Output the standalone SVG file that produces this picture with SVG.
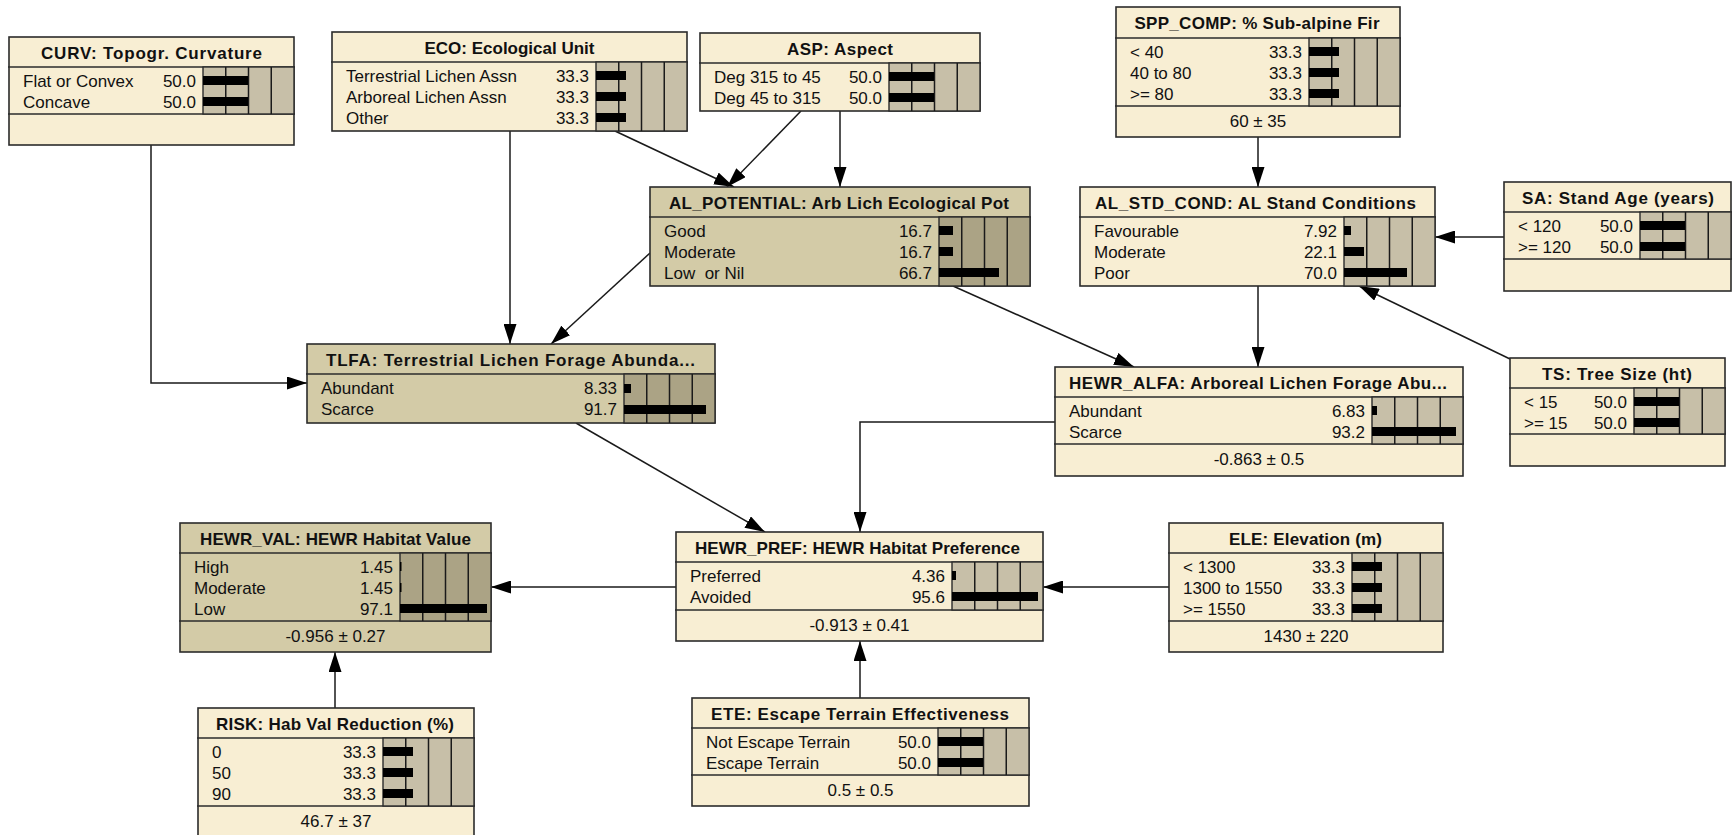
<svg xmlns="http://www.w3.org/2000/svg" width="1732" height="835" viewBox="0 0 1732 835">
<defs>
<marker id="arr" viewBox="0 0 20 13" refX="20" refY="6.5" markerWidth="20" markerHeight="13" markerUnits="userSpaceOnUse" orient="auto">
<path d="M0,0 L20,6.5 L0,13 z" fill="#000"/>
</marker>
<style>
.n{fill:#f8eed3;stroke:#2b2b2b;stroke-width:1.6}
.d{fill:#d3cba7;stroke:#2b2b2b;stroke-width:1.6}
.bb{fill:#c7bfa8;stroke:#2b2b2b;stroke-width:1.4}
.bd{fill:#aba385;stroke:#2b2b2b;stroke-width:1.4}
.sep{stroke:#2b2b2b;stroke-width:1.5}
.g{stroke:#1a1a1a;stroke-width:1.5}
.bar{fill:#000}
text{font-family:"Liberation Sans",Arial,sans-serif;font-size:17px;fill:#111}
.t{font-weight:bold;text-anchor:middle}
.v{text-anchor:end}
.f{text-anchor:middle}
.c{fill:none;stroke:#1a1a1a;stroke-width:1.5;marker-end:url(#arr)}
</style>
</defs>
<rect width="1732" height="835" fill="#fff"/>

<g id="connectors">
<polyline class="c" points="151,145 151,383 307,383"/>
<line class="c" x1="510" y1="131" x2="510" y2="344"/>
<line class="c" x1="650" y1="253" x2="551" y2="344"/>
<line class="c" x1="615" y1="131" x2="734" y2="187"/>
<line class="c" x1="801" y1="111" x2="727" y2="187"/>
<line class="c" x1="840" y1="111" x2="840" y2="187"/>
<line class="c" x1="1258" y1="137" x2="1258" y2="187"/>
<line class="c" x1="1504" y1="237" x2="1435" y2="237"/>
<line class="c" x1="1510" y1="359" x2="1359" y2="286"/>
<line class="c" x1="1258" y1="286" x2="1258" y2="367"/>
<line class="c" x1="953" y1="286" x2="1134" y2="367"/>
<polyline class="c" points="1055,422 860,422 860,532"/>
<line class="c" x1="576" y1="423" x2="765" y2="532"/>
<line class="c" x1="676" y1="587" x2="491" y2="587"/>
<line class="c" x1="1169" y1="587" x2="1043" y2="587"/>
<line class="c" x1="860" y1="698" x2="860" y2="641"/>
<line class="c" x1="335" y1="708" x2="335" y2="652"/>
</g>

<g id="CURV">
<rect class="n" x="9" y="37" width="285" height="108"/>
<line class="sep" x1="8" y1="67" x2="295" y2="67"/>
<line class="sep" x1="8" y1="114" x2="295" y2="114"/>
<rect class="bb" x="203" y="67" width="91" height="47"/>
<line class="g" x1="225.75" y1="67" x2="225.75" y2="114"/>
<line class="g" x1="248.5" y1="67" x2="248.5" y2="114"/>
<line class="g" x1="271.25" y1="67" x2="271.25" y2="114"/>
<rect class="bar" x="203" y="76" width="45" height="9"/>
<rect class="bar" x="203" y="97" width="45" height="9"/>
<text class="t" x="151.5" y="59" textLength="221" lengthAdjust="spacing">CURV: Topogr. Curvature</text>
<text x="23" y="86.5">Flat or Convex</text>
<text class="v" x="196" y="86.5">50.0</text>
<text x="23" y="107.5">Concave</text>
<text class="v" x="196" y="107.5">50.0</text>
</g>

<g id="ECO">
<rect class="n" x="332" y="32" width="355" height="99"/>
<line class="sep" x1="331" y1="62" x2="688" y2="62"/>
<rect class="bb" x="596" y="62" width="91" height="69"/>
<line class="g" x1="618.75" y1="62" x2="618.75" y2="131"/>
<line class="g" x1="641.5" y1="62" x2="641.5" y2="131"/>
<line class="g" x1="664.25" y1="62" x2="664.25" y2="131"/>
<rect class="bar" x="596" y="71" width="30" height="9"/>
<rect class="bar" x="596" y="92" width="30" height="9"/>
<rect class="bar" x="596" y="113" width="30" height="9"/>
<text class="t" x="509.5" y="54" textLength="170" lengthAdjust="spacing">ECO: Ecological Unit</text>
<text x="346" y="81.5">Terrestrial Lichen Assn</text>
<text class="v" x="589" y="81.5">33.3</text>
<text x="346" y="102.5">Arboreal Lichen Assn</text>
<text class="v" x="589" y="102.5">33.3</text>
<text x="346" y="123.5">Other</text>
<text class="v" x="589" y="123.5">33.3</text>
</g>

<g id="ASP">
<rect class="n" x="700" y="33" width="280" height="78"/>
<line class="sep" x1="699" y1="63" x2="981" y2="63"/>
<rect class="bb" x="889" y="63" width="91" height="48"/>
<line class="g" x1="911.75" y1="63" x2="911.75" y2="111"/>
<line class="g" x1="934.5" y1="63" x2="934.5" y2="111"/>
<line class="g" x1="957.25" y1="63" x2="957.25" y2="111"/>
<rect class="bar" x="889" y="72" width="45" height="9"/>
<rect class="bar" x="889" y="93" width="45" height="9"/>
<text class="t" x="840" y="55" textLength="106" lengthAdjust="spacing">ASP: Aspect</text>
<text x="714" y="82.5">Deg 315 to 45</text>
<text class="v" x="882" y="82.5">50.0</text>
<text x="714" y="103.5">Deg 45 to 315</text>
<text class="v" x="882" y="103.5">50.0</text>
</g>

<g id="SPP_COMP">
<rect class="n" x="1116" y="7" width="284" height="130"/>
<line class="sep" x1="1115" y1="38" x2="1401" y2="38"/>
<line class="sep" x1="1115" y1="106" x2="1401" y2="106"/>
<rect class="bb" x="1309" y="38" width="91" height="68"/>
<line class="g" x1="1331.75" y1="38" x2="1331.75" y2="106"/>
<line class="g" x1="1354.5" y1="38" x2="1354.5" y2="106"/>
<line class="g" x1="1377.25" y1="38" x2="1377.25" y2="106"/>
<rect class="bar" x="1309" y="47" width="30" height="9"/>
<rect class="bar" x="1309" y="68" width="30" height="9"/>
<rect class="bar" x="1309" y="89" width="30" height="9"/>
<text class="t" x="1257" y="29" textLength="245" lengthAdjust="spacing">SPP_COMP: % Sub-alpine Fir</text>
<text x="1130" y="57.5">&lt; 40</text>
<text class="v" x="1302" y="57.5">33.3</text>
<text x="1130" y="78.5">40 to 80</text>
<text class="v" x="1302" y="78.5">33.3</text>
<text x="1130" y="99.5">&gt;= 80</text>
<text class="v" x="1302" y="99.5">33.3</text>
<text class="f" x="1258" y="127">60 ± 35</text>
</g>

<g id="AL_POTENTIAL">
<rect class="d" x="650" y="187" width="380" height="99"/>
<line class="sep" x1="649" y1="217" x2="1031" y2="217"/>
<rect class="bd" x="939" y="217" width="91" height="69"/>
<line class="g" x1="961.75" y1="217" x2="961.75" y2="286"/>
<line class="g" x1="984.5" y1="217" x2="984.5" y2="286"/>
<line class="g" x1="1007.25" y1="217" x2="1007.25" y2="286"/>
<rect class="bar" x="939" y="226" width="14" height="9"/>
<rect class="bar" x="939" y="247" width="14" height="9"/>
<rect class="bar" x="939" y="268" width="60" height="9"/>
<text class="t" x="839" y="209" textLength="340" lengthAdjust="spacing">AL_POTENTIAL: Arb Lich Ecological Pot</text>
<text x="664" y="236.5">Good</text>
<text class="v" x="932" y="236.5">16.7</text>
<text x="664" y="257.5">Moderate</text>
<text class="v" x="932" y="257.5">16.7</text>
<text x="664" y="278.5" xml:space="preserve">Low  or Nil</text>
<text class="v" x="932" y="278.5">66.7</text>
</g>

<g id="AL_STD_COND">
<rect class="n" x="1080" y="187" width="355" height="99"/>
<line class="sep" x1="1079" y1="217" x2="1436" y2="217"/>
<rect class="bb" x="1344" y="217" width="91" height="69"/>
<line class="g" x1="1366.75" y1="217" x2="1366.75" y2="286"/>
<line class="g" x1="1389.5" y1="217" x2="1389.5" y2="286"/>
<line class="g" x1="1412.25" y1="217" x2="1412.25" y2="286"/>
<rect class="bar" x="1344" y="226" width="7" height="9"/>
<rect class="bar" x="1344" y="247" width="20" height="9"/>
<rect class="bar" x="1344" y="268" width="63" height="9"/>
<text class="t" x="1255.5" y="209" textLength="321" lengthAdjust="spacing">AL_STD_COND: AL Stand Conditions</text>
<text x="1094" y="236.5">Favourable</text>
<text class="v" x="1337" y="236.5">7.92</text>
<text x="1094" y="257.5">Moderate</text>
<text class="v" x="1337" y="257.5">22.1</text>
<text x="1094" y="278.5">Poor</text>
<text class="v" x="1337" y="278.5">70.0</text>
</g>

<g id="SA">
<rect class="n" x="1504" y="182" width="227" height="109"/>
<line class="sep" x1="1503" y1="212" x2="1732" y2="212"/>
<line class="sep" x1="1503" y1="259" x2="1732" y2="259"/>
<rect class="bb" x="1640" y="212" width="91" height="47"/>
<line class="g" x1="1662.75" y1="212" x2="1662.75" y2="259"/>
<line class="g" x1="1685.5" y1="212" x2="1685.5" y2="259"/>
<line class="g" x1="1708.25" y1="212" x2="1708.25" y2="259"/>
<rect class="bar" x="1640" y="221" width="45" height="9"/>
<rect class="bar" x="1640" y="242" width="45" height="9"/>
<text class="t" x="1618" y="204" textLength="192" lengthAdjust="spacing">SA: Stand Age (years)</text>
<text x="1518" y="231.5">&lt; 120</text>
<text class="v" x="1633" y="231.5">50.0</text>
<text x="1518" y="252.5">&gt;= 120</text>
<text class="v" x="1633" y="252.5">50.0</text>
</g>

<g id="TS">
<rect class="n" x="1510" y="358" width="215" height="108"/>
<line class="sep" x1="1509" y1="388" x2="1726" y2="388"/>
<line class="sep" x1="1509" y1="434" x2="1726" y2="434"/>
<rect class="bb" x="1634" y="388" width="91" height="46"/>
<line class="g" x1="1656.75" y1="388" x2="1656.75" y2="434"/>
<line class="g" x1="1679.5" y1="388" x2="1679.5" y2="434"/>
<line class="g" x1="1702.25" y1="388" x2="1702.25" y2="434"/>
<rect class="bar" x="1634" y="397" width="45" height="9"/>
<rect class="bar" x="1634" y="418" width="45" height="9"/>
<text class="t" x="1617" y="380" textLength="150" lengthAdjust="spacing">TS: Tree Size (ht)</text>
<text x="1524" y="407.5">&lt; 15</text>
<text class="v" x="1627" y="407.5">50.0</text>
<text x="1524" y="428.5">&gt;= 15</text>
<text class="v" x="1627" y="428.5">50.0</text>
</g>

<g id="TLFA">
<rect class="d" x="307" y="344" width="408" height="79"/>
<line class="sep" x1="306" y1="374" x2="716" y2="374"/>
<rect class="bd" x="624" y="374" width="91" height="49"/>
<line class="g" x1="646.75" y1="374" x2="646.75" y2="423"/>
<line class="g" x1="669.5" y1="374" x2="669.5" y2="423"/>
<line class="g" x1="692.25" y1="374" x2="692.25" y2="423"/>
<rect class="bar" x="624" y="384" width="7" height="9"/>
<rect class="bar" x="624" y="405" width="82" height="9"/>
<text class="t" x="510.5" y="366" textLength="369" lengthAdjust="spacing">TLFA: Terrestrial Lichen Forage Abunda...</text>
<text x="321" y="394">Abundant</text>
<text class="v" x="617" y="394">8.33</text>
<text x="321" y="415">Scarce</text>
<text class="v" x="617" y="415">91.7</text>
</g>

<g id="HEWR_ALFA">
<rect class="n" x="1055" y="367" width="408" height="109"/>
<line class="sep" x1="1054" y1="397" x2="1464" y2="397"/>
<line class="sep" x1="1054" y1="444" x2="1464" y2="444"/>
<rect class="bb" x="1372" y="397" width="91" height="47"/>
<line class="g" x1="1394.75" y1="397" x2="1394.75" y2="444"/>
<line class="g" x1="1417.5" y1="397" x2="1417.5" y2="444"/>
<line class="g" x1="1440.25" y1="397" x2="1440.25" y2="444"/>
<rect class="bar" x="1372" y="406" width="5" height="9"/>
<rect class="bar" x="1372" y="427" width="84" height="9"/>
<text class="t" x="1258" y="389" textLength="378" lengthAdjust="spacing">HEWR_ALFA: Arboreal Lichen Forage Abu...</text>
<text x="1069" y="416.5">Abundant</text>
<text class="v" x="1365" y="416.5">6.83</text>
<text x="1069" y="437.5">Scarce</text>
<text class="v" x="1365" y="437.5">93.2</text>
<text class="f" x="1259" y="465">-0.863 ± 0.5</text>
</g>

<g id="HEWR_VAL">
<rect class="d" x="180" y="523" width="311" height="129"/>
<line class="sep" x1="179" y1="553" x2="492" y2="553"/>
<line class="sep" x1="179" y1="621" x2="492" y2="621"/>
<rect class="bd" x="400" y="553" width="91" height="68"/>
<line class="g" x1="422.75" y1="553" x2="422.75" y2="621"/>
<line class="g" x1="445.5" y1="553" x2="445.5" y2="621"/>
<line class="g" x1="468.25" y1="553" x2="468.25" y2="621"/>
<rect class="bar" x="400" y="562" width="1.5" height="9"/>
<rect class="bar" x="400" y="583" width="1.5" height="9"/>
<rect class="bar" x="400" y="604" width="87" height="9"/>
<text class="t" x="335.5" y="545" textLength="271" lengthAdjust="spacing">HEWR_VAL: HEWR Habitat Value</text>
<text x="194" y="572.5">High</text>
<text class="v" x="393" y="572.5">1.45</text>
<text x="194" y="593.5">Moderate</text>
<text class="v" x="393" y="593.5">1.45</text>
<text x="194" y="614.5">Low</text>
<text class="v" x="393" y="614.5">97.1</text>
<text class="f" x="335.5" y="642">-0.956 ± 0.27</text>
</g>

<g id="HEWR_PREF">
<rect class="n" x="676" y="532" width="367" height="109"/>
<line class="sep" x1="675" y1="562" x2="1044" y2="562"/>
<line class="sep" x1="675" y1="610" x2="1044" y2="610"/>
<rect class="bb" x="952" y="562" width="91" height="48"/>
<line class="g" x1="974.75" y1="562" x2="974.75" y2="610"/>
<line class="g" x1="997.5" y1="562" x2="997.5" y2="610"/>
<line class="g" x1="1020.25" y1="562" x2="1020.25" y2="610"/>
<rect class="bar" x="952" y="571" width="4" height="9"/>
<rect class="bar" x="952" y="592" width="86" height="9"/>
<text class="t" x="857.5" y="554" textLength="325" lengthAdjust="spacing">HEWR_PREF: HEWR Habitat Preference</text>
<text x="690" y="581.5">Preferred</text>
<text class="v" x="945" y="581.5">4.36</text>
<text x="690" y="602.5">Avoided</text>
<text class="v" x="945" y="602.5">95.6</text>
<text class="f" x="859.5" y="631">-0.913 ± 0.41</text>
</g>

<g id="ELE">
<rect class="n" x="1169" y="523" width="274" height="129"/>
<line class="sep" x1="1168" y1="553" x2="1444" y2="553"/>
<line class="sep" x1="1168" y1="621" x2="1444" y2="621"/>
<rect class="bb" x="1352" y="553" width="91" height="68"/>
<line class="g" x1="1374.75" y1="553" x2="1374.75" y2="621"/>
<line class="g" x1="1397.5" y1="553" x2="1397.5" y2="621"/>
<line class="g" x1="1420.25" y1="553" x2="1420.25" y2="621"/>
<rect class="bar" x="1352" y="562" width="30" height="9"/>
<rect class="bar" x="1352" y="583" width="30" height="9"/>
<rect class="bar" x="1352" y="604" width="30" height="9"/>
<text class="t" x="1305.5" y="545" textLength="153" lengthAdjust="spacing">ELE: Elevation (m)</text>
<text x="1183" y="572.5">&lt; 1300</text>
<text class="v" x="1345" y="572.5">33.3</text>
<text x="1183" y="593.5">1300 to 1550</text>
<text class="v" x="1345" y="593.5">33.3</text>
<text x="1183" y="614.5">&gt;= 1550</text>
<text class="v" x="1345" y="614.5">33.3</text>
<text class="f" x="1306" y="642">1430 ± 220</text>
</g>

<g id="ETE">
<rect class="n" x="692" y="698" width="337" height="108"/>
<line class="sep" x1="691" y1="728" x2="1030" y2="728"/>
<line class="sep" x1="691" y1="775" x2="1030" y2="775"/>
<rect class="bb" x="938" y="728" width="91" height="47"/>
<line class="g" x1="960.75" y1="728" x2="960.75" y2="775"/>
<line class="g" x1="983.5" y1="728" x2="983.5" y2="775"/>
<line class="g" x1="1006.25" y1="728" x2="1006.25" y2="775"/>
<rect class="bar" x="938" y="737" width="45" height="9"/>
<rect class="bar" x="938" y="758" width="45" height="9"/>
<text class="t" x="860" y="720" textLength="298" lengthAdjust="spacing">ETE: Escape Terrain Effectiveness</text>
<text x="706" y="747.5">Not Escape Terrain</text>
<text class="v" x="931" y="747.5">50.0</text>
<text x="706" y="768.5">Escape Terrain</text>
<text class="v" x="931" y="768.5">50.0</text>
<text class="f" x="860.5" y="796">0.5 ± 0.5</text>
</g>

<g id="RISK">
<rect class="n" x="198" y="708" width="276" height="131"/>
<line class="sep" x1="197" y1="738" x2="475" y2="738"/>
<line class="sep" x1="197" y1="806" x2="475" y2="806"/>
<rect class="bb" x="383" y="738" width="91" height="68"/>
<line class="g" x1="405.75" y1="738" x2="405.75" y2="806"/>
<line class="g" x1="428.5" y1="738" x2="428.5" y2="806"/>
<line class="g" x1="451.25" y1="738" x2="451.25" y2="806"/>
<rect class="bar" x="383" y="747" width="30" height="9"/>
<rect class="bar" x="383" y="768" width="30" height="9"/>
<rect class="bar" x="383" y="789" width="30" height="9"/>
<text class="t" x="335" y="730" textLength="238" lengthAdjust="spacing">RISK: Hab Val Reduction (%)</text>
<text x="212" y="757.5">0</text>
<text class="v" x="376" y="757.5">33.3</text>
<text x="212" y="778.5">50</text>
<text class="v" x="376" y="778.5">33.3</text>
<text x="212" y="799.5">90</text>
<text class="v" x="376" y="799.5">33.3</text>
<text class="f" x="336" y="827">46.7 ± 37</text>
</g>
</svg>
